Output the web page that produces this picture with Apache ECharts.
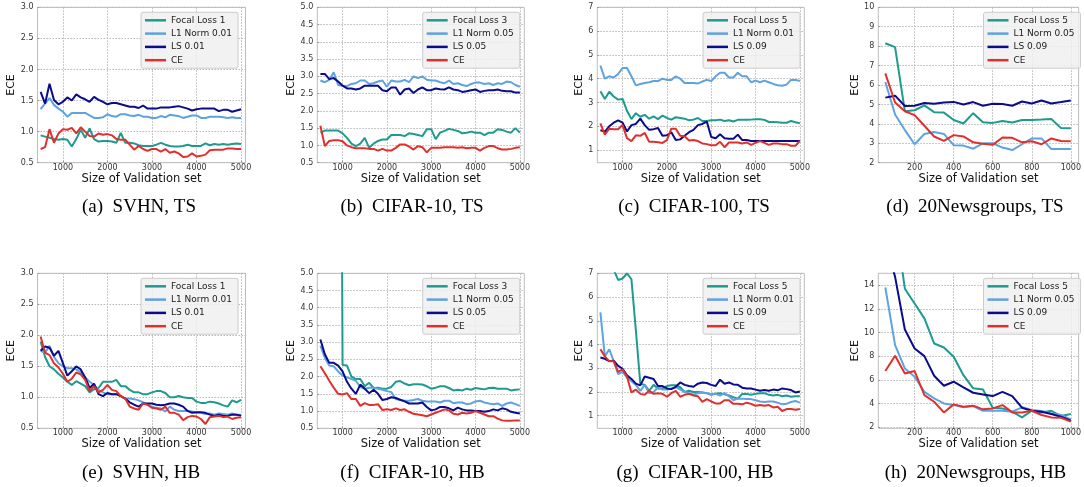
<!DOCTYPE html>
<html><head><meta charset="utf-8">
<script src="https://cdn.jsdelivr.net/npm/echarts@6/dist/echarts.min.js"></script>
<style>html,body{margin:0;padding:0;background:#fff}#c{width:1084px;height:487px}</style>
</head><body><div id="c"></div>
<script>
// ---- x values (validation set sizes) ----
const sizesLarge = [500,600,700,800,900,1000,1100,1200,1300,1400,
  1500,1600,1700,1800,1900,2000,2100,2200,2300,2400,
  2500,2600,2700,2800,2900,3000,3100,3200,3300,3400,
  3500,3600,3700,3800,3900,4000,4100,4200,4300,4400,
  4500,4600,4700,4800,4900,5000];
const sizesNews = [50,100,150,200,250,300,350,400,450,500,550,600,650,700,750,800,850,900,950,1000];

// ---- tick labels ----
const xTicksLarge = [1000,2000,3000,4000,5000];
const xTicksNews = [200,400,600,800,1000];
const yTicks3 = [0.5,1.0,1.5,2.0,2.5,3.0];
const yTicks5 = [0.5,1.0,1.5,2.0,2.5,3.0,3.5,4.0,4.5,5.0];
const yTicks7 = [1,2,3,4,5,6,7];
const yTicks10 = [2,3,4,5,6,7,8,9,10];
const yTicks15 = [2,4,6,8,10,12,14];

// ---- (a) SVHN, TS ----
const aFocal = [0.94,0.92,0.90,0.88,0.87,0.88,0.87,0.76,0.88,1.03,
  0.90,1.05,0.88,0.84,0.85,0.85,0.84,0.82,0.98,0.82,
  0.82,0.81,0.78,0.77,0.77,0.77,0.79,0.82,0.79,0.77,
  0.76,0.76,0.77,0.79,0.77,0.77,0.77,0.81,0.78,0.80,
  0.79,0.80,0.79,0.80,0.81,0.80];
const aL1 = [1.36,1.45,1.54,1.43,1.37,1.32,1.24,1.30,1.30,1.30,
  1.30,1.26,1.22,1.22,1.23,1.28,1.25,1.24,1.28,1.28,
  1.26,1.25,1.27,1.24,1.24,1.22,1.22,1.25,1.23,1.27,
  1.26,1.25,1.22,1.24,1.26,1.26,1.22,1.22,1.24,1.24,
  1.24,1.23,1.22,1.23,1.22,1.22];
const aLS = [1.64,1.45,1.77,1.51,1.44,1.48,1.55,1.50,1.60,1.55,
  1.52,1.48,1.56,1.51,1.48,1.44,1.46,1.46,1.44,1.42,
  1.40,1.40,1.38,1.42,1.37,1.37,1.37,1.39,1.39,1.39,
  1.40,1.41,1.39,1.37,1.34,1.36,1.37,1.37,1.37,1.37,
  1.33,1.35,1.35,1.32,1.34,1.36];
const aCE = [0.72,0.75,1.04,0.82,0.97,1.04,1.03,1.06,0.97,1.07,
  1.00,0.93,0.92,0.97,0.95,0.96,0.94,0.88,0.87,0.87,
  0.79,0.71,0.77,0.72,0.69,0.72,0.72,0.68,0.72,0.66,
  0.68,0.65,0.59,0.60,0.65,0.60,0.61,0.63,0.70,0.71,
  0.71,0.71,0.73,0.73,0.72,0.72];

// ---- (b) CIFAR-10, TS ----
const bFocal = [1.37,1.43,1.43,1.43,1.43,1.35,1.22,1.05,0.98,1.05,
  1.22,0.93,1.05,1.13,1.17,1.17,1.30,1.30,1.30,1.27,
  1.35,1.33,1.30,1.27,1.47,1.47,1.18,1.37,1.42,1.48,
  1.45,1.42,1.35,1.37,1.40,1.37,1.37,1.30,1.37,1.37,
  1.47,1.45,1.40,1.37,1.50,1.37];
const bL1 = [2.88,2.83,2.90,3.12,2.75,2.73,2.72,2.78,2.80,2.88,
  2.88,2.78,2.80,2.85,2.88,2.70,2.88,2.85,2.85,2.90,
  2.83,3.00,2.95,3.00,2.90,2.88,2.88,2.83,2.80,2.88,
  2.78,2.80,2.75,2.72,2.78,2.82,2.82,2.78,2.80,2.75,
  2.80,2.78,2.85,2.83,2.75,2.70];
const bLS = [3.07,3.07,2.92,2.95,2.85,2.73,2.65,2.65,2.62,2.65,
  2.73,2.73,2.73,2.73,2.60,2.57,2.68,2.68,2.47,2.62,
  2.65,2.52,2.62,2.68,2.60,2.60,2.65,2.63,2.62,2.68,
  2.62,2.60,2.55,2.57,2.60,2.62,2.55,2.58,2.60,2.60,
  2.62,2.58,2.57,2.57,2.53,2.53];
const bCE = [1.57,0.98,1.13,1.15,1.15,1.12,1.00,0.95,0.92,0.92,
  0.92,0.90,0.90,0.85,0.90,0.85,0.85,0.93,1.03,1.03,
  0.97,0.88,0.98,0.95,0.80,0.93,0.93,0.93,0.95,0.95,
  0.95,0.93,0.95,0.92,0.93,0.93,0.85,0.93,0.98,0.98,
  0.92,0.88,0.88,0.90,0.93,0.95];

// ---- (c) CIFAR-100, TS ----
const cFocal = [3.47,3.15,3.45,3.25,3.12,3.15,2.65,2.30,2.55,2.40,
  2.48,2.32,2.42,2.30,2.45,2.35,2.28,2.38,2.35,2.32,
  2.25,2.28,2.35,2.22,2.22,2.25,2.25,2.28,2.22,2.25,
  2.20,2.27,2.28,2.27,2.28,2.30,2.30,2.27,2.18,2.18,
  2.17,2.15,2.15,2.22,2.17,2.13];
const cL1 = [4.55,4.00,4.10,4.05,4.20,4.45,4.45,4.10,3.72,3.78,
  3.82,3.85,3.90,3.90,4.00,3.95,3.95,4.10,4.00,3.82,
  3.82,3.82,3.80,3.88,3.95,3.90,4.10,4.25,4.25,4.05,
  4.05,4.25,4.10,4.10,3.85,3.92,3.85,3.92,3.85,3.78,
  3.72,3.70,3.75,3.95,3.95,3.90];
const cLS = [1.83,1.78,2.00,2.15,2.25,2.15,1.78,2.05,2.10,2.32,
  2.05,1.85,1.88,1.93,1.60,1.62,1.75,1.42,1.45,1.60,
  1.75,1.85,2.05,2.10,2.20,1.55,1.50,1.67,1.50,1.48,
  1.48,1.65,1.42,1.42,1.38,1.38,1.38,1.38,1.38,1.38,
  1.38,1.38,1.38,1.38,1.38,1.38];
const cCE = [2.12,1.65,1.90,1.88,1.88,2.05,1.50,1.38,1.62,1.60,
  1.72,1.35,1.35,1.33,1.30,1.42,1.90,1.90,1.60,1.58,
  1.40,1.42,1.38,1.28,1.25,1.20,1.20,1.35,1.12,1.32,
  1.32,1.32,1.28,1.32,1.22,1.30,1.38,1.30,1.22,1.28,
  1.28,1.25,1.25,1.18,1.18,1.38];

// ---- (d) 20Newsgroups, TS ----
const dFocal = [8.15,7.95,4.65,4.70,4.95,4.60,4.58,4.20,4.02,4.55,4.08,4.05,4.15,4.07,4.20,4.20,4.22,4.25,3.78,3.77];
const dL1 = [6.15,4.48,3.68,2.95,3.48,3.58,3.48,2.90,2.88,2.72,3.00,3.00,2.78,2.65,2.95,3.25,3.25,2.70,2.70,2.70];
const dLS = [5.35,5.45,4.92,4.93,5.07,5.03,5.10,5.13,5.00,5.12,4.93,5.03,5.02,4.93,5.15,5.05,5.20,5.05,5.12,5.20];
const dCE = [6.60,5.10,4.65,4.45,3.90,3.35,3.12,3.42,3.35,3.05,2.98,2.92,3.30,3.28,3.05,3.10,2.95,3.25,3.12,3.10];

// ---- (e) SVHN, HB ----
const eFocal = [1.90,1.65,1.50,1.45,1.38,1.32,1.25,1.20,1.26,1.22,
  1.18,1.08,1.13,1.15,1.25,1.25,1.25,1.28,1.18,1.18,
  1.12,1.08,1.08,1.05,1.05,1.08,1.10,1.10,1.07,1.00,
  1.00,1.02,1.00,0.99,0.99,0.93,0.91,0.91,0.93,0.92,
  0.90,0.87,0.85,0.95,0.92,0.96];
const eL1 = [1.75,1.72,1.83,1.65,1.55,1.50,1.47,1.47,1.45,1.40,
  1.32,1.25,1.20,1.12,1.08,1.05,1.05,1.05,1.02,0.98,
  0.98,0.97,0.95,0.92,0.88,0.85,0.83,0.82,0.77,0.85,
  0.80,0.78,0.78,0.78,0.77,0.75,0.75,0.73,0.74,0.72,
  0.74,0.73,0.72,0.74,0.72,0.72];
const eLS = [1.75,1.82,1.80,1.67,1.75,1.55,1.35,1.42,1.50,1.45,
  1.32,1.15,1.22,1.05,1.02,1.07,1.05,1.05,1.02,0.98,
  0.92,0.88,0.85,0.90,0.90,0.90,0.88,0.87,0.88,0.90,
  0.90,0.88,0.85,0.78,0.75,0.76,0.76,0.75,0.72,0.70,
  0.72,0.70,0.70,0.72,0.72,0.70];
const eCE = [1.98,1.72,1.68,1.55,1.48,1.38,1.25,1.30,1.40,1.37,
  1.28,1.10,1.18,1.08,1.12,1.20,1.12,1.10,1.02,0.98,
  0.85,0.82,0.80,0.90,0.88,0.83,0.82,0.80,0.85,0.75,
  0.75,0.72,0.63,0.68,0.70,0.69,0.65,0.57,0.68,0.69,
  0.70,0.68,0.69,0.65,0.67,0.68];

// ---- (f) CIFAR-10, HB (first focal points lie far above the plot) ----
const fFocal = [30,30,30,30,30,2.34,2.32,2.00,1.93,1.93,
  1.72,1.82,1.67,1.68,1.65,1.65,1.70,1.85,1.87,1.80,
  1.75,1.78,1.78,1.77,1.72,1.65,1.68,1.72,1.72,1.67,
  1.60,1.62,1.60,1.65,1.62,1.67,1.65,1.63,1.67,1.68,
  1.65,1.65,1.65,1.60,1.62,1.63];
const fL1 = [2.90,2.55,2.32,2.30,2.15,2.03,1.98,1.93,1.88,1.70,
  1.65,1.68,1.68,1.65,1.62,1.58,1.55,1.35,1.32,1.30,
  1.30,1.32,1.35,1.30,1.28,1.28,1.28,1.25,1.30,1.30,
  1.23,1.25,1.25,1.20,1.22,1.28,1.30,1.25,1.22,1.20,
  1.22,1.15,1.22,1.25,1.20,1.15];
const fLS = [3.08,2.65,2.40,2.40,2.32,2.15,1.85,1.65,1.50,1.77,
  1.65,1.52,1.62,1.50,1.32,1.35,1.40,1.38,1.33,1.28,
  1.22,1.22,1.22,1.25,1.12,1.02,1.05,1.12,1.12,1.08,
  1.02,1.10,1.05,1.02,1.02,1.00,1.00,0.98,1.00,1.05,
  1.02,1.08,1.05,0.98,0.95,0.93];
const fCE = [2.30,2.10,1.88,1.68,1.50,1.48,1.52,1.35,1.35,1.15,
  1.23,1.18,1.18,1.20,1.03,1.05,1.03,1.08,1.03,1.05,
  0.98,0.92,0.90,0.88,0.85,0.90,0.95,1.00,1.05,1.02,
  0.92,0.90,0.95,0.93,0.95,1.00,0.95,0.90,0.85,0.85,
  0.78,0.73,0.72,0.72,0.73,0.73];

// ---- (g) CIFAR-100, HB ----
const gFocal = [9.0,8.6,8.0,7.15,6.72,6.78,7.00,6.75,4.60,2.35,
  2.30,2.05,2.30,2.15,2.15,2.25,2.28,2.28,2.20,2.00,
  2.05,2.00,2.00,1.98,1.95,1.88,1.93,1.95,1.90,1.85,
  1.78,1.72,1.92,1.92,1.88,1.92,1.95,1.95,1.88,1.85,
  1.88,1.82,1.85,1.80,1.82,1.82];
const gL1 = [5.35,3.50,3.80,3.30,2.75,2.85,2.60,2.45,2.30,2.05,
  2.30,1.95,2.00,2.20,2.10,2.10,2.15,2.20,2.10,2.00,
  1.95,1.90,1.95,1.98,1.95,1.90,1.92,1.85,1.95,1.82,
  1.65,1.72,1.72,1.70,1.70,1.65,1.60,1.58,1.60,1.60,
  1.55,1.48,1.50,1.58,1.62,1.55];
const gLS = [3.45,3.40,3.30,3.32,3.10,2.98,2.70,2.55,2.35,2.28,
  2.65,2.60,2.55,2.25,2.25,2.15,2.12,2.22,2.40,2.30,
  2.25,2.22,2.35,2.40,2.38,2.30,2.25,2.52,2.35,2.40,
  2.32,2.30,2.18,2.15,2.15,2.10,2.05,2.08,2.05,2.10,
  2.07,2.15,2.12,2.08,1.98,2.02];
const gCE = [3.80,3.50,3.30,3.30,2.85,2.95,2.65,1.98,2.10,1.92,
  1.88,2.05,1.92,1.95,1.92,1.80,1.95,2.05,1.80,1.88,
  1.92,1.85,1.82,1.58,1.70,1.60,1.52,1.52,1.65,1.65,
  1.50,1.50,1.48,1.55,1.50,1.42,1.45,1.42,1.45,1.35,
  1.38,1.20,1.28,1.28,1.25,1.28];

// ---- (h) 20Newsgroups, HB ----
const hFocal = [20.0,19.6,13.70,12.45,11.20,9.08,8.74,7.96,6.40,5.29,5.20,3.66,3.60,3.32,2.84,3.40,3.26,3.40,2.95,3.12];
const hL1 = [13.80,8.94,6.97,6.27,5.00,4.44,4.02,3.88,3.69,3.80,3.40,3.40,3.40,3.32,3.69,3.46,3.38,3.18,3.04,2.67];
const hLS = [17.7,14.70,10.26,8.66,8.01,6.35,5.51,5.85,5.37,4.92,4.78,4.64,5.00,4.64,3.66,3.40,3.32,3.12,2.90,2.56];
const hCE = [6.75,8.04,6.55,6.75,4.72,4.16,3.26,3.94,3.74,3.83,3.52,3.60,3.88,3.26,3.26,3.40,3.04,2.84,2.81,2.48];

const COLORS = ['#1f9a8e', '#5fa2e0', '#0b0b8c', '#e0302e'];
const FONT = 'DejaVu Sans';

const panels = [
  {cap:'(a)  SVHN, TS', xs:sizesLarge, xt:xTicksLarge, xr:[430,5100], yt:yTicks3, yr:[0.5,3.0], dec:1,
   names:['Focal Loss 1','L1 Norm 0.01','LS 0.01','CE'], ys:[aFocal,aL1,aLS,aCE],
   g:[37.5,7.3,208,155.4], gap:19, lg:[141,12.3], cx:139, cy:207},
  {cap:'(b)  CIFAR-10, TS', xs:sizesLarge, xt:xTicksLarge, xr:[430,5100], yt:yTicks5, yr:[0.5,5.0], dec:1,
   names:['Focal Loss 3','L1 Norm 0.05','LS 0.05','CE'], ys:[bFocal,bL1,bLS,bCE],
   g:[317.3,7.3,207,155.4], gap:21, lg:[422.7,12.3], cx:412, cy:207},
  {cap:'(c)  CIFAR-100, TS', xs:sizesLarge, xt:xTicksLarge, xr:[430,5100], yt:yTicks7, yr:[0.47,7], dec:0,
   names:['Focal Loss 5','L1 Norm 0.01','LS 0.09','CE'], ys:[cFocal,cL1,cLS,cCE],
   g:[597.3,7.3,207,155.4], gap:11, lg:[703,12.3], cx:694, cy:207},
  {cap:'(d)  20Newsgroups, TS', xs:sizesNews, xt:xTicksNews, xr:[14,1040], yt:yTicks10, yr:[2,10], dec:0,
   names:['Focal Loss 5','L1 Norm 0.05','LS 0.09','CE'], ys:[dFocal,dL1,dLS,dCE],
   g:[878.3,7.3,206.5,155.4], gap:15, lg:[983.5,12.3], cx:975, cy:207},
  {cap:'(e)  SVHN, HB', xs:sizesLarge, xt:xTicksLarge, xr:[430,5100], yt:yTicks3, yr:[0.5,3.0], dec:1,
   names:['Focal Loss 1','L1 Norm 0.01','LS 0.01','CE'], ys:[eFocal,eL1,eLS,eCE],
   g:[37.5,273.3,208,155], gap:19, lg:[141,278.3], cx:141, cy:473},
  {cap:'(f)  CIFAR-10, HB', xs:sizesLarge, xt:xTicksLarge, xr:[430,5100], yt:yTicks5, yr:[0.5,5.0], dec:1,
   names:['Focal Loss 3','L1 Norm 0.05','LS 0.05','CE'], ys:[fFocal,fL1,fLS,fCE],
   g:[317.3,273.3,207,155], gap:21, lg:[422.7,278.3], cx:412.5, cy:473},
  {cap:'(g)  CIFAR-100, HB', xs:sizesLarge, xt:xTicksLarge, xr:[430,5100], yt:yTicks7, yr:[0.47,7], dec:0,
   names:['Focal Loss 5','L1 Norm 0.01','LS 0.09','CE'], ys:[gFocal,gL1,gLS,gCE],
   g:[597.3,273.3,207,155], gap:11, lg:[703,278.3], cx:695, cy:473},
  {cap:'(h)  20Newsgroups, HB', xs:sizesNews, xt:xTicksNews, xr:[14,1040], yt:yTicks15, yr:[1.92,15], dec:0,
   names:['Focal Loss 5','L1 Norm 0.05','LS 0.09','CE'], ys:[hFocal,hL1,hLS,hCE],
   g:[878.3,273.3,206.5,155], gap:15, lg:[983.5,278.3], cx:975.5, cy:473}
];

const grid = [], xAxis = [], yAxis = [], series = [], legend = [], graphic = [];
panels.forEach((p, i) => {
  grid.push({left:p.g[0], top:p.g[1], width:p.g[2], height:p.g[3], show:true,
    borderColor:'#bdbdbd', borderWidth:1, backgroundColor:'#ffffff', containLabel:false});
  const common = {
    axisLine:{show:false},
    axisTick:{show:true, inside:true, length:2, lineStyle:{color:'#999'}},
    splitLine:{show:true, lineStyle:{color:'#b8b8b8', type:[1.5,1.5], width:1}}
  };
  xAxis.push(Object.assign({}, common, {
    type:'value', gridIndex:i, min:p.xr[0], max:p.xr[1],
    axisTick:Object.assign({}, common.axisTick, {customValues:p.xt}),
    axisLabel:{customValues:p.xt, fontSize:8, fontFamily:FONT, color:'#333', margin:1,
      formatter:(v)=>String(Math.round(v))},
    name:'Size of Validation set', nameLocation:'middle', nameGap:10,
    nameTextStyle:{fontSize:11.5, fontFamily:FONT, color:'#111'}
  }));
  yAxis.push(Object.assign({}, common, {
    type:'value', gridIndex:i, min:p.yr[0], max:p.yr[1],
    axisTick:Object.assign({}, common.axisTick, {customValues:p.yt}),
    axisLabel:{customValues:p.yt, fontSize:8, fontFamily:FONT, color:'#333', margin:4,
      formatter:(v)=>Number(v).toFixed(p.dec)},
    name:'ECE', nameLocation:'middle', nameGap:p.gap,
    nameTextStyle:{fontSize:11, fontFamily:FONT, color:'#111'}
  }));
  p.names.forEach((nm, k) => {
    series.push({
      type:'line', name:nm, xAxisIndex:i, yAxisIndex:i,
      data:p.xs.map((x, j) => [x, p.ys[k][j]]),
      showSymbol:false, symbol:'none', clip:true,
      lineStyle:{width:2, color:COLORS[k]}, itemStyle:{color:COLORS[k]},
      emphasis:{disabled:true}, silent:true, z:2+k
    });
  });
  legend.push({
    left:p.lg[0], top:p.lg[1], orient:'vertical', data:p.names, icon:'rect',
    itemWidth:21, itemHeight:2.5, itemGap:3.3, selectedMode:false,
    textStyle:{fontSize:9, lineHeight:10, fontFamily:FONT, color:'#222'},
    padding:[3,6,3,4], backgroundColor:'rgba(240,240,240,0.85)',
    borderColor:'#cccccc', borderWidth:1, borderRadius:2, z:10
  });
  graphic.push({type:'text', x:p.cx, y:p.cy, z:20,
    style:{text:p.cap, font:'19px "Liberation Serif"', fill:'#000', textAlign:'center', textVerticalAlign:'middle'}});
});

const chart = echarts.init(document.getElementById('c'), null, {renderer:'canvas'});
chart.setOption({animation:false, backgroundColor:'#ffffff', grid, xAxis, yAxis, series, legend, graphic});
</script>
</body></html>
